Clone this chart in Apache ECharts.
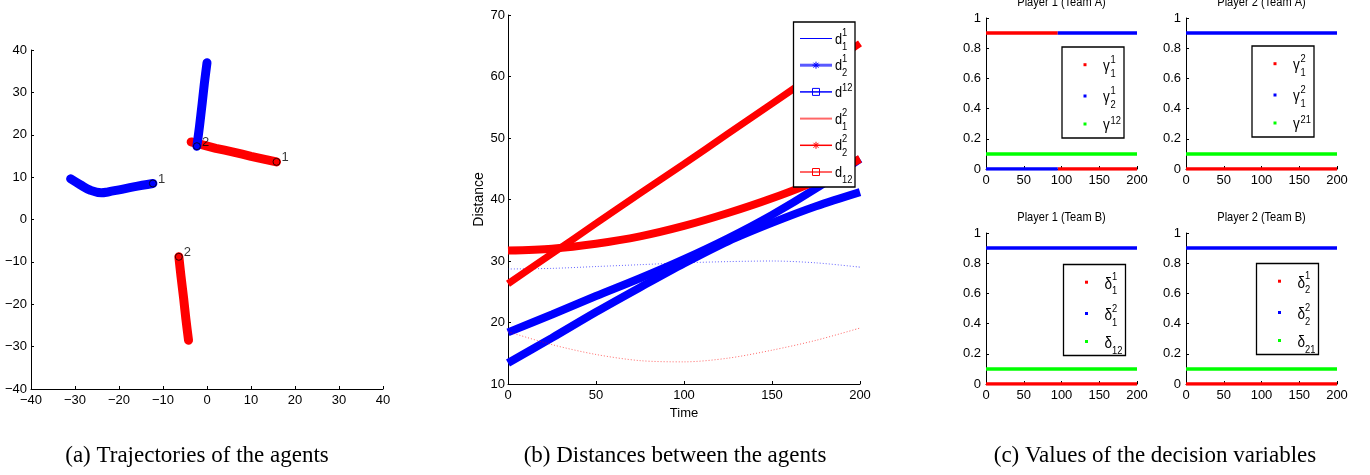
<!DOCTYPE html>
<html><head><meta charset="utf-8">
<script src="https://cdn.jsdelivr.net/npm/echarts@6/dist/echarts.min.js"></script>
<style>html,body{margin:0;padding:0;background:#fff}#c{width:1370px;height:475px}</style>
</head><body><div id="c"></div>
<script>
// ---------- (a) Trajectories: [x, y], first point = start (labelled) ----------
const blueAgent1 = [[-12.3,8.5],[-16.7,7.7],[-20,7.0],[-22.5,6.5],[-24,6.3],[-26.5,6.9],[-28.8,8.2],[-31,9.6]];
const blueAgent2 = [[-2.3,17.3],[-1.7,22],[-1.1,27.4],[-0.6,32.1],[0,37]];
const redAgent1  = [[15.8,13.6],[10,14.9],[6,15.9],[2,16.8],[-1,17.6],[-3.6,18.3]];
const redAgent2  = [[-6.4,-8.8],[-5.9,-13.5],[-5.3,-18.7],[-4.8,-23.5],[-4.2,-28.5]];
const agentLabels = ['1', '2'];

// ---------- (b) Distances ----------
const timeB   = [0, 25, 50, 75, 100, 125, 150, 175, 200];
const d1_1    = [28.7, 28.8, 29.1, 29.4, 29.7, 29.9, 30.0, 29.7, 29.0];
const d1_2    = [18.4, 21.3, 24.3, 27.2, 30.3, 33.7, 37.5, 41.8, 46.6];
const dUp12   = [13.4, 17.5, 21.7, 25.7, 29.6, 33.2, 36.2, 38.9, 41.2];
const d2_1    = [18.5, 16.4, 14.8, 13.8, 13.6, 14.2, 15.5, 17.1, 19.1];
const d2_2    = [26.3, 31.2, 36.1, 41.0, 45.8, 50.7, 55.6, 60.5, 65.4];
const dLow12  = [31.7, 32.0, 32.8, 34.0, 35.7, 37.8, 40.2, 43.0, 46.6];

// ---------- (c) Decision variables: [time, value], '-' = gap ----------
const p1A_red   = [[0,0.9],[95,0.9],[95,'-'],[95,0],[200,0]];
const p1A_blue  = [[0,0],[95,0],[95,'-'],[95,0.9],[200,0.9]];
const p1A_green = [[0,0.1],[200,0.1]];
const p2A_red   = [[0,0],[200,0]];
const p2A_blue  = [[0,0.9],[200,0.9]];
const p2A_green = [[0,0.1],[200,0.1]];
const p1B_red   = [[0,0],[200,0]];
const p1B_blue  = [[0,0.9],[200,0.9]];
const p1B_green = [[0,0.1],[200,0.1]];
const p2B_red   = [[0,0],[200,0]];
const p2B_blue  = [[0,0.9],[200,0.9]];
const p2B_green = [[0,0.1],[200,0.1]];
const panelTitles = ['Player 1 (Team A)', 'Player 2 (Team A)', 'Player 1 (Team B)', 'Player 2 (Team B)'];
const captions = ['(a) Trajectories of the agents', '(b) Distances between the agents', '(c) Values of the decision variables'];

const BLUE = '#0000ff', RED = '#ff0000', GREEN = '#00ff00';
const SANS = '"Liberation Sans", Arial, sans-serif';
const SERIF = '"Liberation Serif", "Times New Roman", serif';
const TICK = 13;

const minus = v => (v < 0 ? '\u2212' + Math.abs(v) : String(v));

function lab(margin, fmt) {
  const o = { color: '#000', fontSize: TICK, fontFamily: SANS, margin,
    showMinLabel: true, showMaxLabel: true, hideOverlap: false };
  if (fmt) o.formatter = fmt;
  return o;
}
function axis(gridIndex, min, max, interval, extra) {
  return Object.assign({
    type: 'value', gridIndex, min, max, interval,
    axisLine: { show: true, onZero: false, lineStyle: { color: '#000', width: 1 } },
    axisTick: { show: true, inside: true, length: 3, lineStyle: { color: '#000' } },
    splitLine: { show: false },
    axisLabel: lab(5)
  }, extra || {});
}

const grids = [
  { left: 31, top: 50, width: 352, height: 339 },
  { left: 508, top: 15, width: 352, height: 369 },
  { left: 986, top: 18, width: 151, height: 151 },
  { left: 1186, top: 18, width: 151, height: 151 },
  { left: 986, top: 233, width: 151, height: 151 },
  { left: 1186, top: 233, width: 151, height: 151 }
];

const xAxes = [
  axis(0, -40, 40, 10, { axisLabel: lab(5, minus) }),
  axis(1, 0, 200, 50, { name: 'Time', nameLocation: 'middle', nameGap: 23,
    nameTextStyle: { color: '#000', fontSize: 13, fontFamily: SANS } }),
  axis(2, 0, 200, 50), axis(3, 0, 200, 50), axis(4, 0, 200, 50), axis(5, 0, 200, 50)
];
const yAxes = [
  axis(0, -40, 40, 10, { axisLabel: lab(4, minus) }),
  axis(1, 10, 70, 10, { name: 'Distance', nameLocation: 'middle', nameGap: 11, nameRotate: 90,
    axisLabel: lab(3),
    nameTextStyle: { color: '#000', fontSize: 14, fontFamily: SANS } }),
  axis(2, 0, 1, 0.2), axis(3, 0, 1, 0.2), axis(4, 0, 1, 0.2), axis(5, 0, 1, 0.2)
];

const series = [];
// (a)
function traj(data, color, smooth) {
  series.push({ type: 'line', xAxisIndex: 0, yAxisIndex: 0, data, showSymbol: false, smooth,
    lineStyle: { color, width: 9, cap: 'round', join: 'round' }, silent: true });
}
traj(redAgent1, RED, 0.1); traj(redAgent2, RED, 0.2);
traj(blueAgent1, BLUE, 0.4); traj(blueAgent2, BLUE, 0.2);
const starts = [[redAgent1, RED, agentLabels[0]], [redAgent2, RED, agentLabels[1]],
                [blueAgent1, BLUE, agentLabels[0]], [blueAgent2, BLUE, agentLabels[1]]];
series.push({ type: 'scatter', xAxisIndex: 0, yAxisIndex: 0, symbol: 'circle', symbolSize: 7, z: 5,
  data: starts.map(s => ({ value: s[0][0], itemStyle: { color: s[1], borderColor: '#000', borderWidth: 1 },
    label: { show: true, formatter: s[2], position: 'right', distance: 1, offset: [0, -4],
      color: '#000', fontSize: 13, fontFamily: SANS } })) });

// (b)
function distLine(vals, color, width, dotted) {
  series.push({ type: 'line', xAxisIndex: 1, yAxisIndex: 1, showSymbol: false, smooth: 0.3,
    data: timeB.map((t, i) => [t, vals[i]]),
    lineStyle: dotted ? { color, width: 1, type: [1, 2], opacity: 0.6 } : { color, width } });
}
distLine(d1_1, BLUE, 1, true);
distLine(d1_2, BLUE, 8);
distLine(dUp12, BLUE, 8);
distLine(d2_1, RED, 1, true);
distLine(d2_2, RED, 7);
distLine(dLow12, RED, 8);

// (c)
function decLine(idx, data, color) {
  series.push({ type: 'line', xAxisIndex: idx, yAxisIndex: idx, showSymbol: false, data,
    connectNulls: false, lineStyle: { color, width: 3.5 } });
}
decLine(2, p1A_green, GREEN); decLine(2, p1A_red, RED); decLine(2, p1A_blue, BLUE);
decLine(3, p2A_green, GREEN); decLine(3, p2A_red, RED); decLine(3, p2A_blue, BLUE);
decLine(4, p1B_green, GREEN); decLine(4, p1B_red, RED); decLine(4, p1B_blue, BLUE);
decLine(5, p2B_green, GREEN); decLine(5, p2B_red, RED); decLine(5, p2B_blue, BLUE);

// ---------- graphics: legends, titles, captions ----------
const G = [];
function txt(text, x, y, font, align, sx) {
  const el = { type: 'text', z: 200, silent: true,
    style: { text, x, y, font, fill: '#000', align: align || 'left', verticalAlign: 'middle',
      textAlign: align || 'left', textVerticalAlign: 'middle' } };
  if (sx) { el.scaleX = sx; el.originX = x; el.originY = y; }
  G.push(el);
}
function box(x, y, w, h) {
  G.push({ type: 'rect', z: 190, silent: true, shape: { x, y, width: w, height: h },
    style: { fill: '#fff', stroke: '#000', lineWidth: 1.3 } });
}
function seg(x1, y1, x2, y2, color, w) {
  G.push({ type: 'line', z: 195, silent: true, shape: { x1, y1, x2, y2 }, style: { stroke: color, lineWidth: w } });
}
function star(cx, cy, color) {
  const r = 3.5, q = 2.5;
  seg(cx - r, cy, cx + r, cy, color, 1); seg(cx, cy - r, cx, cy + r, color, 1);
  seg(cx - q, cy - q, cx + q, cy + q, color, 1); seg(cx - q, cy + q, cx + q, cy - q, color, 1);
}
function square(cx, cy, color) {
  G.push({ type: 'rect', z: 196, silent: true, shape: { x: cx - 3.5, y: cy - 3.5, width: 7, height: 7 },
    style: { fill: 'none', stroke: color, lineWidth: 1 } });
}
function symLabel(base, sup, sub, x, y, baseSize, smallSize) {
  const bf = baseSize + 'px ' + SANS, sf = smallSize + 'px ' + SANS;
  txt(base, x, y + 1, bf, 'left', 0.85);
  const sx = x + baseSize * 0.47;
  if (sup && sub) { txt(sup, sx, y - 6, sf, 'left', 0.85); txt(sub, sx, y + 8, sf, 'left', 0.85); }
  else if (sup) txt(sup, sx, y - 4, sf, 'left', 0.85);
  else if (sub) txt(sub, sx, y + 8, sf, 'left', 0.85);
}

// legend (b)
box(793.5, 22, 61.5, 165);
const rowsB = [
  { c: BLUE, w: 1, m: null, sup: '1', sub: '1' },
  { c: 'rgba(0,0,255,0.65)', w: 3, m: 'star', mc: BLUE, sup: '1', sub: '2' },
  { c: BLUE, w: 1.5, m: 'square', mc: BLUE, sup: '12', sub: '' },
  { c: 'rgba(255,0,0,0.6)', w: 2, m: null, sup: '2', sub: '1' },
  { c: RED, w: 1.5, m: 'star', mc: RED, sup: '2', sub: '2' },
  { c: 'rgba(255,0,0,0.6)', w: 2, m: 'square', mc: RED, sup: '', sub: '12' }
];
rowsB.forEach((r, i) => {
  const y = 38.5 + i * 26.7;
  seg(800, y, 832, y, r.c, r.w);
  if (r.m === 'star') star(816, y, r.mc);
  if (r.m === 'square') square(816, y, r.mc);
  symLabel('d', r.sup, r.sub, 835, y, 15, 11);
});

// legends (c)
function legendC(x0, y0, rows) {
  box(x0, y0, 62, 91);
  const dy = [17.7, 49, 77];
  rows.forEach((r, i) => {
    const y = y0 + dy[i];
    G.push({ type: 'rect', z: 196, silent: true, shape: { x: x0 + 21.5, y: y - 1.5, width: 3, height: 3 }, style: { fill: r[0] } });
    symLabel(r[1], r[2], r[3], x0 + 41, y + 1, 16, 11);
  });
}
legendC(1062, 47, [[RED, '\u03B3', '1', '1'], [BLUE, '\u03B3', '1', '2'], [GREEN, '\u03B3', '12', '']]);
legendC(1252, 46, [[RED, '\u03B3', '2', '1'], [BLUE, '\u03B3', '2', '1'], [GREEN, '\u03B3', '21', '']]);
legendC(1063.5, 264.5, [[RED, '\u03B4', '1', '1'], [BLUE, '\u03B4', '2', '1'], [GREEN, '\u03B4', '', '12']]);
legendC(1256.5, 263.5, [[RED, '\u03B4', '1', '2'], [BLUE, '\u03B4', '2', '2'], [GREEN, '\u03B4', '', '21']]);

// panel titles
txt(panelTitles[0], 1061.5, 2, '13px ' + SANS, 'center', 0.85);
txt(panelTitles[1], 1261.5, 2, '13px ' + SANS, 'center', 0.85);
txt(panelTitles[2], 1061.5, 217, '13px ' + SANS, 'center', 0.85);
txt(panelTitles[3], 1261.5, 217, '13px ' + SANS, 'center', 0.85);

// captions
txt(captions[0], 197, 456, '23px ' + SERIF, 'center');
txt(captions[1], 675, 456, '23px ' + SERIF, 'center');
txt(captions[2], 1155, 456, '23px ' + SERIF, 'center');

const chart = echarts.init(document.getElementById('c'), null, { renderer: 'canvas' });
chart.setOption({
  animation: false,
  backgroundColor: '#fff',
  grid: grids,
  xAxis: xAxes,
  yAxis: yAxes,
  series,
  graphic: G
});
</script></body></html>
